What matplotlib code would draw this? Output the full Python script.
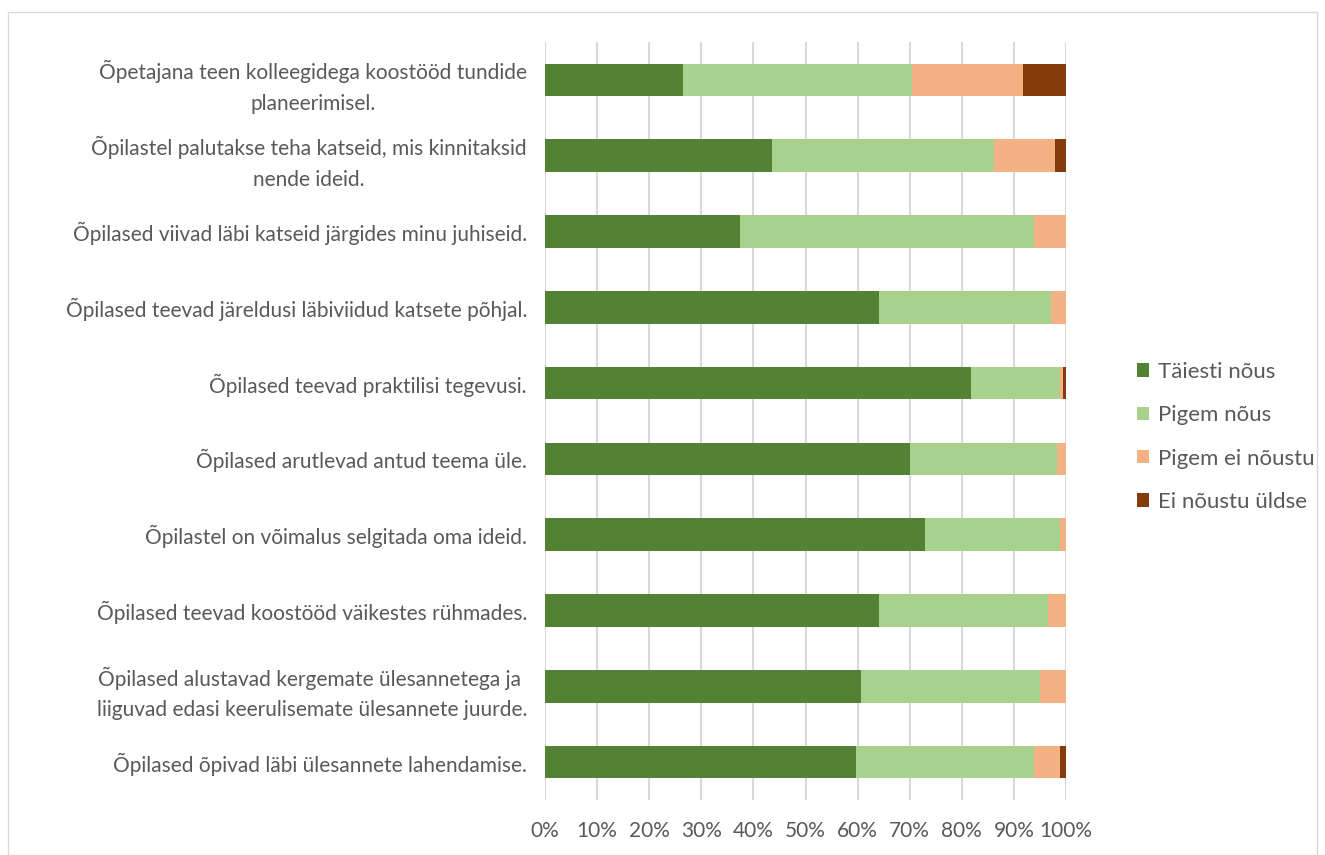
import matplotlib
matplotlib.use("Agg")
import matplotlib.pyplot as plt
import numpy as np

categories = [
    "Õpetajana teen kolleegidega koostööd tundide\nplaneerimisel.",
    "Õpilastel palutakse teha katseid, mis kinnitaksid\nnende ideid.",
    "Õpilased viivad läbi katseid järgides minu juhiseid.",
    "Õpilased teevad järeldusi läbiviidud katsete põhjal.",
    "Õpilased teevad praktilisi tegevusi.",
    "Õpilased arutlevad antud teema üle.",
    "Õpilastel on võimalus selgitada oma ideid.",
    "Õpilased teevad koostööd väikestes rühmades.",
    "Õpilased alustavad kergemate ülesannetega ja \nliiguvad edasi keerulisemate ülesannete juurde.",
    "Õpilased õpivad läbi ülesannete lahendamise.",
]
series_names = ["Täiesti nõus", "Pigem nõus", "Pigem ei nõustu", "Ei nõustu üldse"]
taiesti = [26.5, 43.6, 37.5, 64.1, 81.8, 70.1, 72.9, 64.1, 60.7, 59.7]
pigem = [44.0, 42.6, 56.4, 33.1, 17.1, 28.2, 26.0, 32.5, 34.3, 34.2]
pigem_ei = [21.2, 11.6, 6.1, 2.8, 0.5, 1.7, 1.1, 3.4, 5.0, 5.0]
ei_yldse = [8.3, 2.2, 0.0, 0.0, 0.6, 0.0, 0.0, 0.0, 0.0, 1.1]
xtick_labels = ["0%", "10%", "20%", "30%", "40%", "50%", "60%", "70%", "80%", "90%", "100%"]

colors = ["#548235", "#a9d18e", "#f4b183", "#843c0c"]
text_color = "#595959"

plt.rcParams['font.family'] = ['Lato', 'DejaVu Sans']

fig = plt.figure(figsize=(13.25, 8.55), dpi=100)
ax = fig.add_axes([545/1325, 1-800/855, (1066-545)/1325, (800-42)/855])

data = np.array([taiesti, pigem, pigem_ei, ei_yldse])
y = np.arange(len(categories))
left = np.zeros(len(categories))
for vals, name, c in zip(data, series_names, colors):
    ax.barh(y, vals, left=left, height=0.43, color=c, label=name, zorder=3)
    left += vals

ax.set_ylim(len(categories)-0.5, -0.5)
ax.set_xlim(0, 100)
ax.set_xticks(np.arange(0, 101, 10))
ax.set_xticklabels(xtick_labels, fontsize=15, color=text_color)
ax.set_yticks(y)
ax.set_yticklabels(categories, fontsize=15, color=text_color, linespacing=1.65,
                   multialignment='center')
ax.tick_params(axis='both', length=0)
ax.tick_params(axis='y', pad=13)
ax.tick_params(axis='x', pad=15)
for s in ax.spines.values():
    s.set_visible(False)
ax.grid(axis='x', color='#d9d9d9', linewidth=1.5, zorder=0)
ax.set_axisbelow(True)

leg = fig.legend(loc='center left', bbox_to_anchor=(1117/1325, 1-437/855), frameon=False,
                 fontsize=16, labelcolor=text_color, handlelength=0.55, handleheight=0.55,
                 handletextpad=0.4, labelspacing=1.05)

border = plt.Rectangle((8/1325, 0), 1-16/1325, 1-12/855, transform=fig.transFigure,
                       fill=False, edgecolor='#d9d9d9', linewidth=1)
fig.patches.append(border)

fig.savefig("out.png", dpi=100, facecolor='white')
